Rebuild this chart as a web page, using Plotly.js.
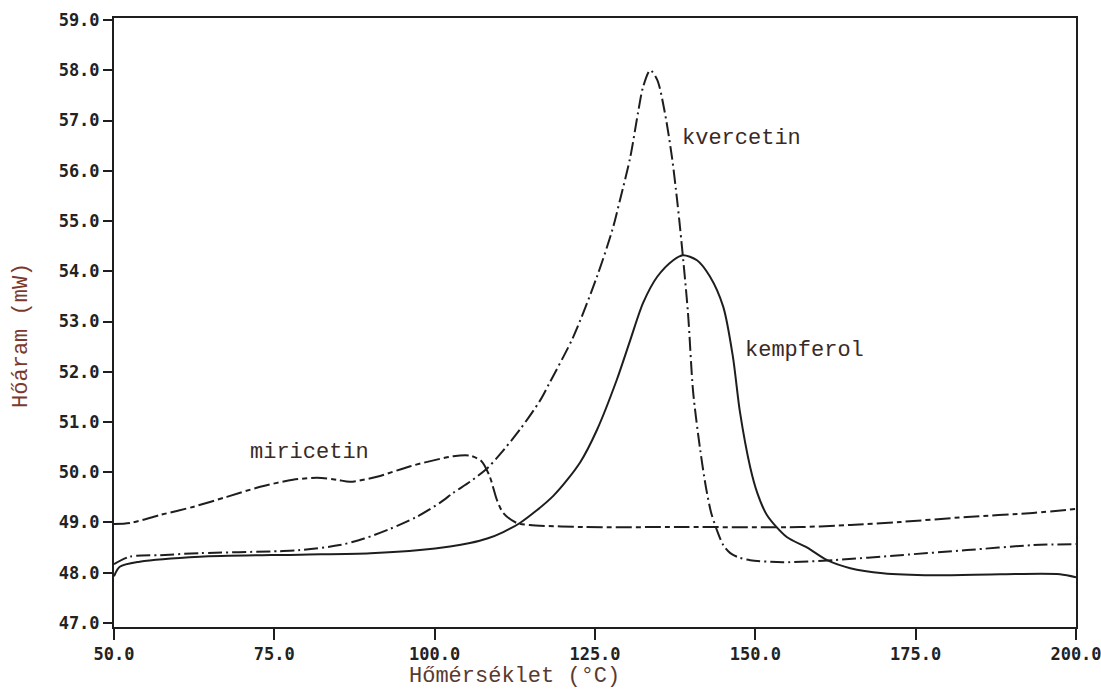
<!DOCTYPE html>
<html>
<head>
<meta charset="utf-8">
<script src="https://cdn.plot.ly/plotly-3.0.1.min.js"></script>
<style>html,body{margin:0;padding:0;background:#fff}#chart{width:1101px;height:697px}</style>
</head>
<body>
<div id="chart"></div>
<script>
// Temperature (°C) and heat flow (mW)
const kempferolX = [50, 50.9, 54, 63.4, 79, 90, 97.7, 102.4, 105.5, 108.2, 110.7, 113.3, 118.5, 122.7, 125.3, 128.4, 130.5, 132.5, 134.7, 137.2, 138.7, 140.9, 142.9, 145.0, 146.5, 147.6, 149.2, 150.3, 151.8, 154.9, 158.1, 161.2, 164.8, 169.9, 177.7, 188.2, 197.5, 200];
const kempferolY = [47.93, 48.12, 48.22, 48.32, 48.36, 48.39, 48.45, 48.52, 48.59, 48.68, 48.81, 48.99, 49.53, 50.2, 50.84, 51.84, 52.63, 53.37, 53.89, 54.22, 54.32, 54.22, 53.9, 53.29, 52.3, 51.2, 50.1, 49.59, 49.15, 48.71, 48.5, 48.25, 48.09, 47.99, 47.95, 47.97, 47.97, 47.91];

const kvercetinX = [50, 52.5, 57.2, 63.4, 75.9, 79, 85.2, 89, 93, 97, 100.8, 102.9, 105.5, 108.2, 110.2, 113.3, 116.4, 118, 121.6, 125.3, 127.7, 128.9, 130.5, 131.7, 132.5, 133.6, 134.7, 135.9, 137.0, 137.8, 138.3, 139.5, 140.3, 141.4, 142.3, 143.1, 144.0, 145.0, 146.1, 147.5, 149.2, 154.3, 162.1, 172.6, 183, 193.3, 200];
const kvercetinY = [48.17, 48.32, 48.35, 48.39, 48.43, 48.45, 48.55, 48.68, 48.87, 49.1, 49.39, 49.59, 49.81, 50.08, 50.36, 50.85, 51.42, 51.8, 52.69, 53.89, 54.82, 55.42, 56.27, 57.15, 57.67, 58.0, 57.81, 57.15, 56.27, 55.42, 54.82, 53.17, 51.6, 50.45, 49.7, 49.2, 48.85, 48.55, 48.39, 48.3, 48.25, 48.21, 48.25, 48.35, 48.45, 48.55, 48.57];

const miricetinX = [50, 52.5, 57.2, 62.3, 67.6, 72.8, 77.9, 81.7, 84.8, 86.8, 91.0, 96.2, 101.3, 102.9, 105.5, 107.3, 108.6, 109.7, 110.7, 112.8, 114.8, 123.1, 138.7, 157, 164.8, 172.6, 183, 193.3, 200];
const miricetinY = [48.97, 48.99, 49.15, 49.31, 49.51, 49.71, 49.85, 49.89, 49.85, 49.81, 49.91, 50.12, 50.28, 50.32, 50.33, 50.22, 49.91, 49.45, 49.19, 48.99, 48.95, 48.91, 48.91, 48.91, 48.95, 49.01, 49.11, 49.19, 49.27];

const seriesNames = ['kempferol', 'kvercetin', 'miricetin'];
const xTitle = 'Hőmérséklet (°C)';
const yTitle = 'Hőáram (mW)';
const labelX = [148.0, 138.2, 70.9];
const labelY = [52.43, 56.65, 50.4];

const ink = '#1e1e1e';
const traces = [
  {x: kempferolX, y: kempferolY, name: seriesNames[0], mode: 'lines', line: {color: ink, width: 2, shape: 'spline', smoothing: 0.8}},
  {x: kvercetinX, y: kvercetinY, name: seriesNames[1], mode: 'lines', line: {color: ink, width: 2, shape: 'spline', smoothing: 0.8, dash: '14px,4px,2px,4px'}},
  {x: miricetinX, y: miricetinY, name: seriesNames[2], mode: 'lines', line: {color: ink, width: 2, shape: 'spline', smoothing: 0.8, dash: '16px,4px,5px,4px'}}
];

const mono = '"Liberation Mono", "Courier New", monospace';
const labelFont = {family: mono, size: 22, color: '#3a2a26'};
const annotations = seriesNames.map((n, i) => ({
  x: labelX[i], y: labelY[i], xref: 'x', yref: 'y', text: n, showarrow: false,
  xanchor: 'left', yanchor: 'middle', font: labelFont
}));
annotations.push({
  x: 0.416, y: -0.082, xref: 'paper', yref: 'paper', text: xTitle, showarrow: false,
  xanchor: 'center', yanchor: 'middle', font: {family: mono, size: 22, color: '#5a3a30'}
});
annotations.push({
  x: -0.0956, y: 0.478, xref: 'paper', yref: 'paper', text: yTitle, showarrow: false,
  textangle: -90, xanchor: 'center', yanchor: 'middle', font: {family: mono, size: 22, color: '#7a3a2e'}
});

const tickFont = {family: '"DejaVu Sans Mono", monospace', size: 17, color: '#222', weight: 'bold'};
const layout = {
  width: 1101, height: 697,
  margin: {l: 114, r: 25, t: 18, b: 70},
  paper_bgcolor: '#fff', plot_bgcolor: '#fff',
  showlegend: false,
  xaxis: {
    range: [50, 200], dtick: 25, tick0: 50, tickformat: '.1f',
    showgrid: false, zeroline: false,
    showline: true, mirror: true, linecolor: ink, linewidth: 2,
    ticks: 'outside', ticklen: 11, tickwidth: 2, tickcolor: ink,
    tickfont: tickFont, ticklabeloverflow: 'allow'
  },
  yaxis: {
    range: [46.92, 59.04], dtick: 1, tick0: 47, tickformat: '.1f',
    showgrid: false, zeroline: false,
    showline: true, mirror: true, linecolor: ink, linewidth: 2,
    ticks: 'outside', ticklen: 9, tickwidth: 2, tickcolor: ink,
    tickfont: tickFont, ticklabeloverflow: 'allow'
  },
  annotations: annotations
};

Plotly.newPlot('chart', traces, layout, {displayModeBar: false, staticPlot: true});
</script>
</body>
</html>
